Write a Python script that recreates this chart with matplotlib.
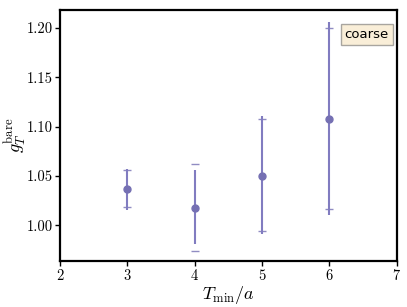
import matplotlib
matplotlib.use("Agg")
import matplotlib.pyplot as plt

plt.rcParams['font.family'] = 'serif'
plt.rcParams['font.serif'] = ['cmr10']
plt.rcParams['mathtext.fontset'] = 'cm'
plt.rcParams['axes.formatter.use_mathtext'] = True

tmin = [3, 4, 5, 6]
g_bare = [1.037, 1.018, 1.050, 1.108]
# inner (line) error, asymmetric lower/upper
err_lo = [0.021, 0.037, 0.059, 0.097]
err_hi = [0.020, 0.038, 0.061, 0.098]
# outer (caps) error
cap_lo = [0.018, 0.044, 0.056, 0.091]
cap_hi = [0.019, 0.044, 0.058, 0.092]

color = '#7570b3'
line_color = '#817cc0'

fig = plt.figure(figsize=(4.07, 3.07), dpi=100)
ax = fig.add_axes([0.147, 0.150, 0.828, 0.817])

ax.errorbar(tmin, g_bare, yerr=[cap_lo, cap_hi], fmt='none', ecolor=color,
            elinewidth=0, capsize=3, capthick=1.0, alpha=0.8)
ax.errorbar(tmin, g_bare, yerr=[err_lo, err_hi], fmt='o', color=color,
            ecolor=line_color, ms=5, elinewidth=1.5, capsize=0)

ax.set_xlim(2, 7)
ax.set_ylim(0.964, 1.218)
ax.set_xticks([2, 3, 4, 5, 6, 7])
ax.set_yticks([1.00, 1.05, 1.10, 1.15, 1.20])
ax.set_yticklabels(['1.00', '1.05', '1.10', '1.15', '1.20'])
ax.tick_params(labelsize=10.5, length=3.5, width=1.0, pad=1.5)
for s in ax.spines.values():
    s.set_linewidth(1.6)

ax.set_xlabel(r'$T_{\rm min}/a$', fontsize=13, labelpad=1)
ax.set_ylabel(r'$g_T^{\rm bare}$', fontsize=13)
ax.yaxis.set_label_coords(-0.095, 0.5)

ax.text(0.976, 0.902, 'coarse', transform=ax.transAxes, ha='right', va='center',
        family='DejaVu Sans', fontsize=9.5,
        bbox=dict(boxstyle='square,pad=0.3', facecolor='wheat', alpha=0.5,
                  edgecolor='#555555'))

fig.savefig('out.png')
